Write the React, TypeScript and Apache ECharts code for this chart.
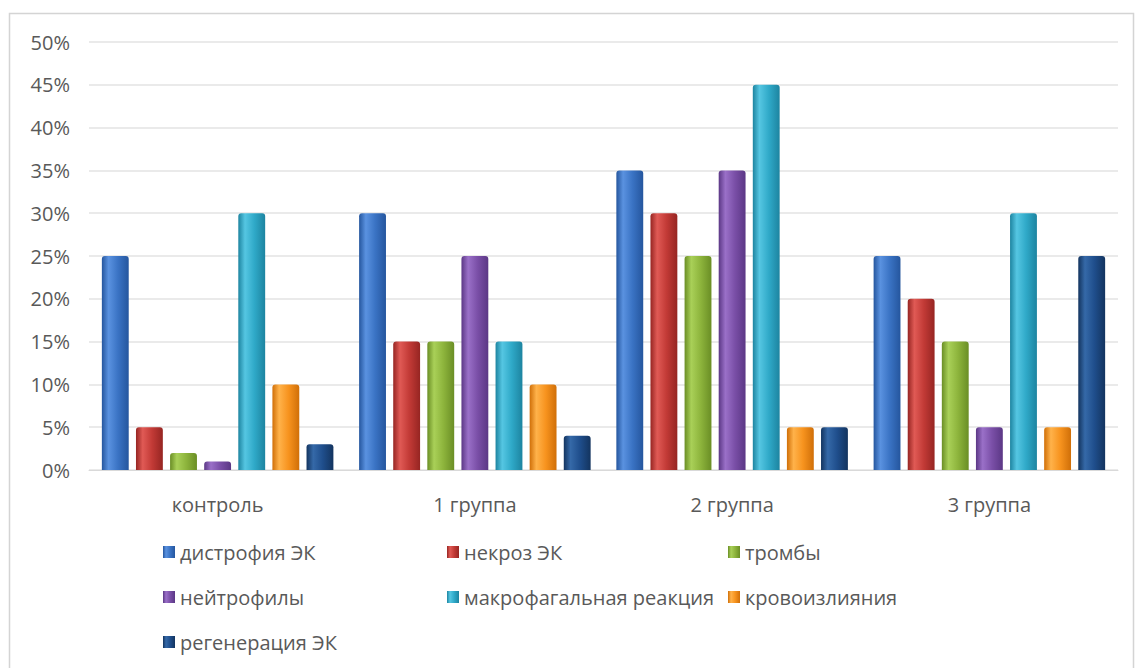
import React, { useEffect, useRef } from "react";
import * as echarts from "echarts";

const categories = ["контроль", "1 группа", "2 группа", "3 группа"];
const seriesNames = [
  "дистрофия ЭК",
  "некроз ЭК",
  "тромбы",
  "нейтрофилы",
  "макрофагальная реакция",
  "кровоизлияния",
  "регенерация ЭК",
];
const dystrophy = [25, 30, 35, 25];
const necrosis = [5, 15, 30, 20];
const thrombi = [2, 15, 25, 15];
const neutrophils = [1, 25, 35, 5];
const macrophage = [30, 15, 45, 30];
const hemorrhage = [10, 10, 5, 5];
const regeneration = [3, 4, 5, 25];
const seriesValues = [dystrophy, necrosis, thrombi, neutrophils, macrophage, hemorrhage, regeneration];
const yTicks = [0, 5, 10, 15, 20, 25, 30, 35, 40, 45, 50];

const baseColors = ["#3A73C4", "#C23A36", "#8DB43C", "#7A4FA7", "#2FA9C8", "#F7931E", "#1F4E8C"];
const darkColors = ["#25569E", "#962522", "#6A8E25", "#5B3785", "#1D84A0", "#D06F08", "#13345F"];
const lightColors = ["#5A92E0", "#E05A55", "#A9D058", "#9A70C8", "#55C6E2", "#FFB24A", "#3569A8"];

const legendPos = [
  [163, 553],
  [447, 553],
  [728, 553],
  [163, 598],
  [447, 598],
  [728, 598],
  [163, 643],
];

const FONT = "'Open Sans', sans-serif";
const TXT = "#595959";

export default function App() {
  const ref = useRef<HTMLDivElement>(null);
  useEffect(() => {
    if (!ref.current) return;
    const chart = echarts.init(ref.current, undefined, { renderer: "svg" });
    const grad = (i: number) =>
      new echarts.graphic.LinearGradient(0, 0, 1, 0, [
        { offset: 0, color: darkColors[i] },
        { offset: 0.25, color: lightColors[i] },
        { offset: 0.6, color: baseColors[i] },
        { offset: 1, color: darkColors[i] },
      ]);
    chart.setOption({
      animation: false,
      backgroundColor: "#ffffff",
      textStyle: { fontFamily: FONT },
      graphic: [
        {
          type: "rect",
          shape: { x: 9.5, y: 13.5, width: 1124, height: 680 },
          style: { fill: "none", stroke: "#d4d4d4", lineWidth: 1.5 },
          silent: true,
        },
      ],
      legend: seriesNames.map((n, i) => ({
        data: [n],
        left: legendPos[i][0],
        top: legendPos[i][1] - 11,
        padding: 0,
        itemWidth: 12,
        itemHeight: 12,
        icon: "rect",
        selectedMode: false,
        textStyle: { color: TXT, fontSize: 20, fontFamily: FONT, padding: [0, 0, 0, 0] },
      })),
      grid: { left: 89, right: 18, top: 42, bottom: 198, containLabel: false },
      xAxis: {
        type: "category",
        data: categories,
        axisLine: { show: true, lineStyle: { color: "#d9d9d9" } },
        axisTick: { show: false },
        axisLabel: { color: TXT, fontSize: 20, fontFamily: FONT, margin: 24 },
      },
      yAxis: {
        type: "value",
        min: yTicks[0],
        max: yTicks[yTicks.length - 1],
        interval: 5,
        axisLine: { show: false },
        axisTick: { show: false },
        splitLine: { lineStyle: { color: "#e3e3e3", width: 1.5 } },
        axisLabel: { color: TXT, fontSize: 20, fontFamily: FONT, margin: 19, formatter: "{value}%" },
      },
      series: seriesNames.map((n, i) => ({
        name: n,
        type: "bar",
        data: seriesValues[i],
        barGap: "27%",
        barCategoryGap: "10%",
        itemStyle: { color: grad(i), borderRadius: [3, 3, 0, 0] },
      })),
    });
    return () => chart.dispose();
  }, []);
  return (
    <div
      ref={ref}
      style={{ position: "fixed", left: 0, top: 0, width: 1136, height: 668, background: "#fff" }}
    />
  );
}
